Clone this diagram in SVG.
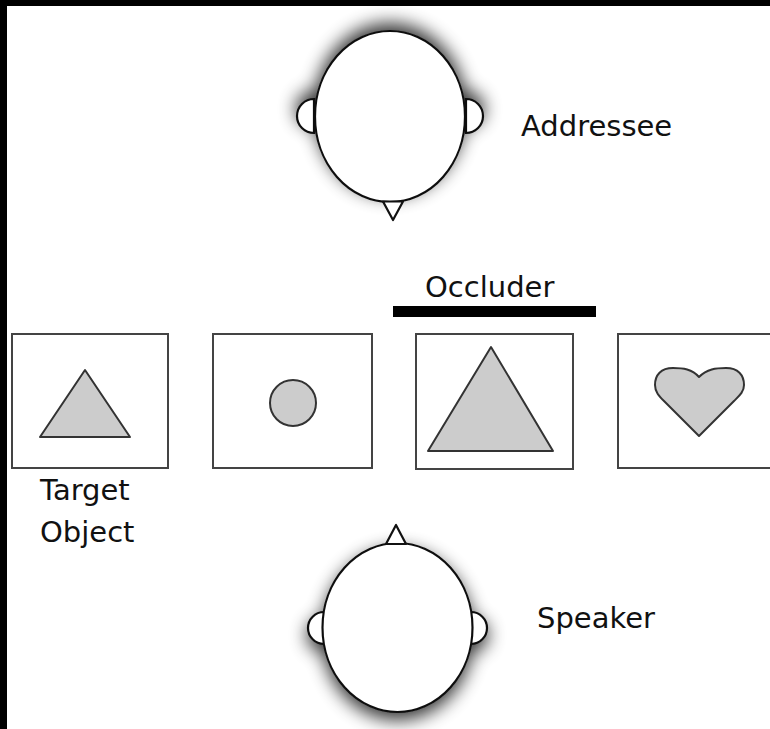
<svg xmlns="http://www.w3.org/2000/svg" width="770" height="729" viewBox="0 0 770 729">
<style>
.lbl{font-family:"DejaVu Sans","Verdana",sans-serif;font-size:29px;fill:#111}
.box{fill:none;stroke:#444;stroke-width:2}
.obj{fill:#cccccc;stroke:#333;stroke-width:2;stroke-linejoin:round}
.head{fill:#fff;stroke:#111;stroke-width:2.2}
</style>
<defs>
<filter id="shUp" x="-40%" y="-40%" width="180%" height="180%">
<feGaussianBlur in="SourceAlpha" stdDeviation="9"/>
<feOffset dx="0" dy="-7" result="b"/>
<feComponentTransfer><feFuncA type="linear" slope="0.8"/></feComponentTransfer>
<feMerge><feMergeNode/><feMergeNode in="SourceGraphic"/></feMerge>
</filter>
<filter id="shDown" x="-40%" y="-40%" width="180%" height="180%">
<feGaussianBlur in="SourceAlpha" stdDeviation="9"/>
<feOffset dx="0" dy="7" result="b"/>
<feComponentTransfer><feFuncA type="linear" slope="0.8"/></feComponentTransfer>
<feMerge><feMergeNode/><feMergeNode in="SourceGraphic"/></feMerge>
</filter>
</defs>
<rect x="0" y="0" width="770" height="729" fill="#000"/>
<rect x="7" y="6" width="763" height="723" fill="#fff"/>

<g id="addressee">
<g filter="url(#shUp)">
<path class="head" d="M314,99 A17,17 0 0 0 314,133 Z"/>
<path class="head" d="M466,99 A17,17 0 0 1 466,133 Z"/>
<ellipse class="head" cx="390" cy="116.5" rx="75" ry="85.5"/>
</g>
<polygon class="head" points="383,201.5 403,201.5 393,220" stroke-width="1.8" stroke-linejoin="round"/>
<text class="lbl" x="521" y="136">Addressee</text>
</g>

<g id="occluder">
<rect x="393" y="306" width="203" height="11" fill="#000"/>
<text class="lbl" x="425" y="297">Occluder</text>
</g>

<g id="box1">
<rect class="box" x="12" y="334" width="156" height="134"/>
<polygon class="obj" points="85,370 130,437 40,437"/>
<text class="lbl" x="40" y="500">Target</text>
<text class="lbl" x="40" y="542">Object</text>
</g>

<g id="box2">
<rect class="box" x="213" y="334" width="159" height="134"/>
<circle class="obj" cx="293" cy="403" r="23"/>
</g>

<g id="box3">
<rect class="box" x="416" y="334" width="157" height="135"/>
<polygon class="obj" points="491,347 553,451 428,451"/>
</g>

<g id="box4">
<rect class="box" x="618" y="334" width="170" height="134"/>
<path class="obj" d="M699,377 C692,369 683,368 673,368 C661,368 655,375 655,385 C655,392 659,396 664,401 L699,436 L734,401 C739,396 744,392 744,385 C744,375 738,368 726,368 C716,368 707,369 699,377 Z"/>
</g>

<g id="speaker">
<g filter="url(#shDown)">
<path class="head" d="M324,612 A16,16 0 0 0 324,644 Z"/>
<path class="head" d="M471,612 A16,16 0 0 1 471,644 Z"/>
<ellipse class="head" cx="397.5" cy="627.5" rx="75" ry="84.5"/>
</g>
<polygon class="head" points="386,544 406,544 396,525" stroke-width="1.8" stroke-linejoin="round"/>
<text class="lbl" x="537" y="628">Speaker</text>
</g>

<g id="connectors"></g>
</svg>
